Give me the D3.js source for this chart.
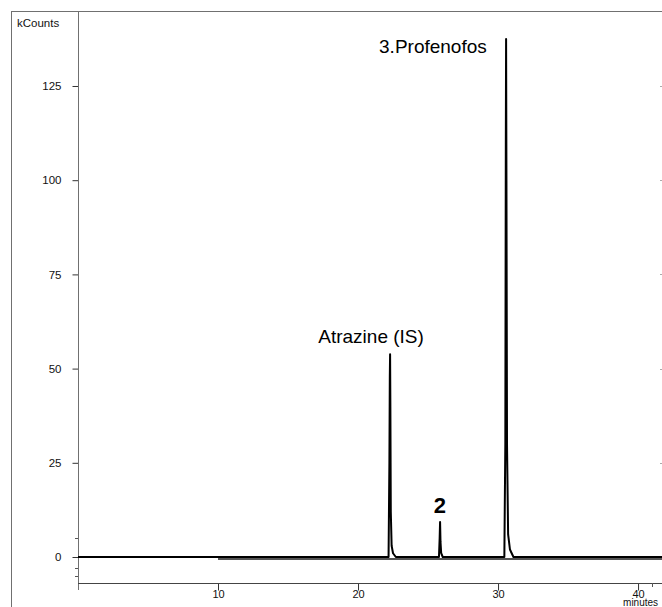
<!DOCTYPE html>
<html>
<head>
<meta charset="utf-8">
<script src="https://cdn.jsdelivr.net/npm/d3@7"></script>
<style>
  html, body { margin: 0; padding: 0; background: #fff; }
  svg { display: block; font-family: "Liberation Sans", Arial, sans-serif; }
</style>
</head>
<body>
<svg id="chart" width="662" height="607"></svg>
<script>
// ---- data ----
const yTickValues = [0, 25, 50, 75, 100, 125];
const yMinorTicks = [5, -3, -5];
const xTickValues = [10, 20, 30, 40];
const xMinorTicks = [41];

// main trace (black) : retention time (min) and signal (kCounts)
const mainTime = [0, 22.18, 22.24, 22.27, 22.29, 22.31, 22.34, 22.40, 22.50, 22.70,
                  25.78, 25.83, 25.86, 25.89, 25.94, 26.05,
                  30.45, 30.52, 30.555, 30.575, 30.60, 30.64, 30.72, 30.85, 31.10, 41.71];
const mainSignal = [0, 0, 25, 48, 53.8, 40, 12, 3, 1, 0,
                    0, 5, 9.3, 4, 1, 0,
                    0, 30, 110, 137.5, 100, 30, 6, 2, 0, 0];

// second trace (grey), starts at 10 min
const secondTime = [10, 41.71];
const secondSignal = [-0.5, -0.5];

const peakLabels = ["Atrazine (IS)", "2", "3.Profenofos"];
const peakLabelTime = [20.93, 25.85, 25.35];
const peakLabelValue = [56.8, 11.7, 133.8];

// ---- layout ----
const svg = d3.select("#chart");
const mLeft = 78, mRight = 662, mTop = 11, mBottom = 583;

const x = d3.scaleLinear().domain([0, 41.71]).range([mLeft, mRight]);
const y = d3.scaleLinear().domain([-6.9, 144.9]).range([mBottom, mTop]);

const frameColor = "#707070";

// outer frame
svg.append("line").attr("x1", 11).attr("x2", 662).attr("y1", 11.5).attr("y2", 11.5)
  .attr("stroke", frameColor).attr("stroke-width", 1);
svg.append("line").attr("x1", 11.5).attr("x2", 11.5).attr("y1", 11).attr("y2", 607)
  .attr("stroke", frameColor).attr("stroke-width", 1);

// y axis
const yAxis = svg.append("g").attr("transform", `translate(${mLeft + 0.5},0)`)
  .call(d3.axisLeft(y).tickValues(yTickValues).tickSize(6).tickPadding(11).tickSizeOuter(0));
yAxis.select(".domain").remove();
yAxis.selectAll(".tick line").attr("stroke", "#333");
yAxis.selectAll(".tick text").attr("font-size", 11.5).attr("fill", "#111")
  .attr("font-family", "Liberation Sans, Arial, sans-serif");
svg.append("line").attr("x1", mLeft + 0.5).attr("x2", mLeft + 0.5).attr("y1", mTop).attr("y2", 590)
  .attr("stroke", frameColor).attr("stroke-width", 1);
svg.selectAll(".yminor").data(yMinorTicks).join("line").attr("class", "yminor")
  .attr("x1", mLeft - 3).attr("x2", mLeft)
  .attr("y1", d => Math.round(y(d)) + 0.5).attr("y2", d => Math.round(y(d)) + 0.5)
  .attr("stroke", "#555");

// right mirror ticks
svg.selectAll(".rtick").data(yTickValues).join("line").attr("class", "rtick")
  .attr("x1", 660).attr("x2", 662)
  .attr("y1", d => Math.round(y(d)) + 0.5).attr("y2", d => Math.round(y(d)) + 0.5)
  .attr("stroke", "#aaa");

// x axis
const xAxis = svg.append("g").attr("transform", `translate(0,${mBottom + 0.5})`)
  .call(d3.axisBottom(x).tickValues(xTickValues).tickSize(7).tickPadding(0).tickSizeOuter(0));
xAxis.select(".domain").remove();
xAxis.selectAll(".tick line").attr("stroke", "#333");
xAxis.selectAll(".tick text").attr("font-size", 11).attr("fill", "#111")
  .attr("font-family", "Liberation Sans, Arial, sans-serif");
svg.append("line").attr("x1", mLeft).attr("x2", mRight).attr("y1", mBottom + 0.5).attr("y2", mBottom + 0.5)
  .attr("stroke", "#444").attr("stroke-width", 1);
svg.selectAll(".xminor").data(xMinorTicks).join("line").attr("class", "xminor")
  .attr("x1", d => Math.round(x(d)) + 0.5).attr("x2", d => Math.round(x(d)) + 0.5)
  .attr("y1", mBottom).attr("y2", mBottom + 4).attr("stroke", "#555");

svg.append("text").attr("x", x(40) - 15).attr("y", 606).attr("font-size", 10)
  .attr("fill", "#111").text("minutes");

svg.append("text").attr("x", 17).attr("y", 27).attr("font-size", 11.5)
  .attr("fill", "#111").text("kCounts");

// traces
const line = d3.line().x(d => x(d[0])).y(d => y(d[1]));
const secondData = secondTime.map((t, i) => [t, secondSignal[i]]);
const mainData = mainTime.map((t, i) => [t, mainSignal[i]]);

svg.append("path").datum(secondData).attr("d", line)
  .attr("fill", "none").attr("stroke", "#555").attr("stroke-width", 2);
svg.append("path").datum(mainData).attr("d", line)
  .attr("fill", "none").attr("stroke", "#000").attr("stroke-width", 2)
  .attr("stroke-linejoin", "round");

// peak labels
const sizes = [19, 22, 19];
const weights = ["normal", "bold", "normal"];
svg.selectAll(".plabel").data(peakLabels).join("text").attr("class", "plabel")
  .attr("x", (d, i) => x(peakLabelTime[i]))
  .attr("y", (d, i) => y(peakLabelValue[i]))
  .attr("text-anchor", "middle")
  .attr("font-size", (d, i) => sizes[i])
  .attr("font-weight", (d, i) => weights[i])
  .attr("fill", "#000")
  .text(d => d);
</script>
</body>
</html>
